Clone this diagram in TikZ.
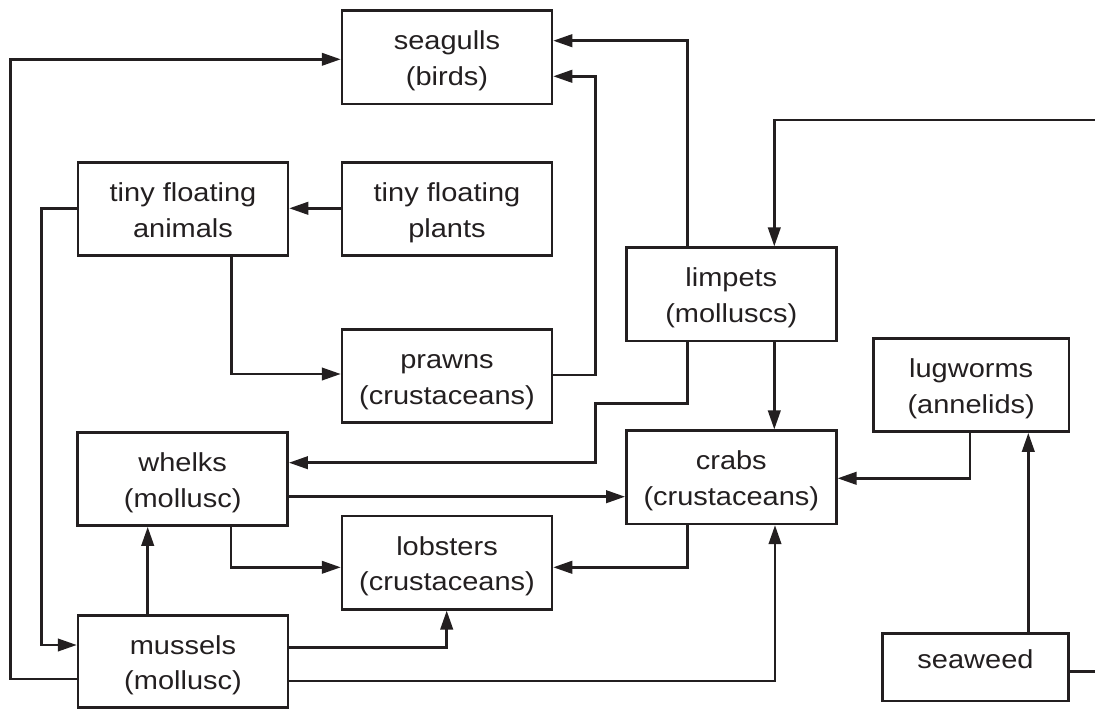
\documentclass[tikz,border=0pt]{standalone}
\usepackage{fontspec}
\setmainfont{Liberation Sans}
\newfontfamily\boxfont[FakeStretch=1.115]{Liberation Sans}
\usetikzlibrary{arrows.meta}
\definecolor{ink}{RGB}{35,31,32}
\newcommand\twolines[2]{\rule{0pt}{25.9pt}#1\\#2\rule[-5.6pt]{0pt}{5.6pt}}
\begin{document}
\begin{tikzpicture}[x=1pt,y=-1pt,
  box/.style={draw=ink, text=ink, line width=2.5pt, inner sep=0pt, align=center,
    font=\boxfont\fontsize{26}{35.7}\selectfont, minimum width=210pt, minimum height=93.3pt},
  conn/.style={draw=ink, line width=2.5pt},
  arr/.style={conn, -{Triangle[length=19pt,width=12.5pt]}}]
\useasboundingbox (0,0) rectangle (1095,709);
\node[box] (seagulls) at (447,57.3) {\twolines{seagulls}{(birds)}};
\node[box] (animals) at (183,209) {\twolines{tiny floating}{animals}};
\node[box] (plants) at (447,209) {\twolines{tiny floating}{plants}};
\node[box] (limpets) at (731.3,294.3) {\twolines{limpets}{(molluscs)}};
\node[box] (prawns) at (447,376) {\twolines{prawns}{(crustaceans)}};
\node[box, minimum width=195.7pt] (lugworms) at (971.2,385) {\twolines{lugworms}{(annelids)}};
\node[box] (whelks) at (182.7,479) {\twolines{whelks}{(mollusc)}};
\node[box] (crabs) at (731.3,477.3) {\twolines{crabs}{(crustaceans)}};
\node[box] (lobsters) at (447,562.7) {\twolines{lobsters}{(crustaceans)}};
\node[box, minimum height=92pt] (mussels) at (183,661.7) {\twolines{mussels}{(mollusc)}};
\node[box, minimum width=185.6pt, minimum height=67.7pt, text height=18pt, text depth=16pt] (seaweed) at (975.5,667.2) {seaweed};
\coordinate (trEnd) at (1095,120);
\coordinate (swEnd) at (1095,671.7);

\draw[arr] (plants.west |- 0,208.3) -- (animals.east |- 0,208.3);
\draw[arr] (animals.south -| 231.7,0) |- (prawns.west |- 0,374);
\draw[arr] (prawns.east |- 0,375) -| (595.7,76.3) -- (seagulls.east |- 0,76.3);
\draw[arr] (limpets.north -| 687.7,0) |- (seagulls.east |- 0,40.7);
\draw[arr] (trEnd) -| (limpets.north -| 774.3,0);
\draw[arr] (limpets.south -| 774.3,0) -- (crabs.north -| 774.3,0);
\draw[arr] (limpets.south -| 687.7,0) -- (687.7,403.3) -- (595.7,403.3) -- (595.7,462.7) -- (whelks.east |- 0,462.7);
\draw[arr] (whelks.east |- 0,496.7) -- (crabs.west |- 0,496.7);
\draw[arr] (lugworms.south -| 970,0) |- (crabs.east |- 0,478.3);
\draw[arr] (seaweed.north -| 1028.3,0) -- (lugworms.south -| 1028.3,0);
\draw[conn] (seaweed.east |- 0,671.7) -- (swEnd);
\draw[arr] (whelks.south -| 231,0) |- (lobsters.west |- 0,567.3);
\draw[arr] (crabs.south -| 687.3,0) |- (lobsters.east |- 0,567.3);
\draw[arr] (mussels.north -| 147.7,0) -- (whelks.south -| 147.7,0);
\draw[arr] (mussels.east |- 0,647.7) -| (lobsters.south -| 446.7,0);
\draw[arr] (mussels.east |- 0,681) -| (crabs.south -| 775,0);
\draw[arr] (mussels.west |- 0,679) -| (10.7,59.3) -- (seagulls.west |- 0,59.3);
\draw[arr] (animals.west |- 0,208.3) -| (41.7,645) -- (mussels.west |- 0,645);
\end{tikzpicture}
\end{document}
